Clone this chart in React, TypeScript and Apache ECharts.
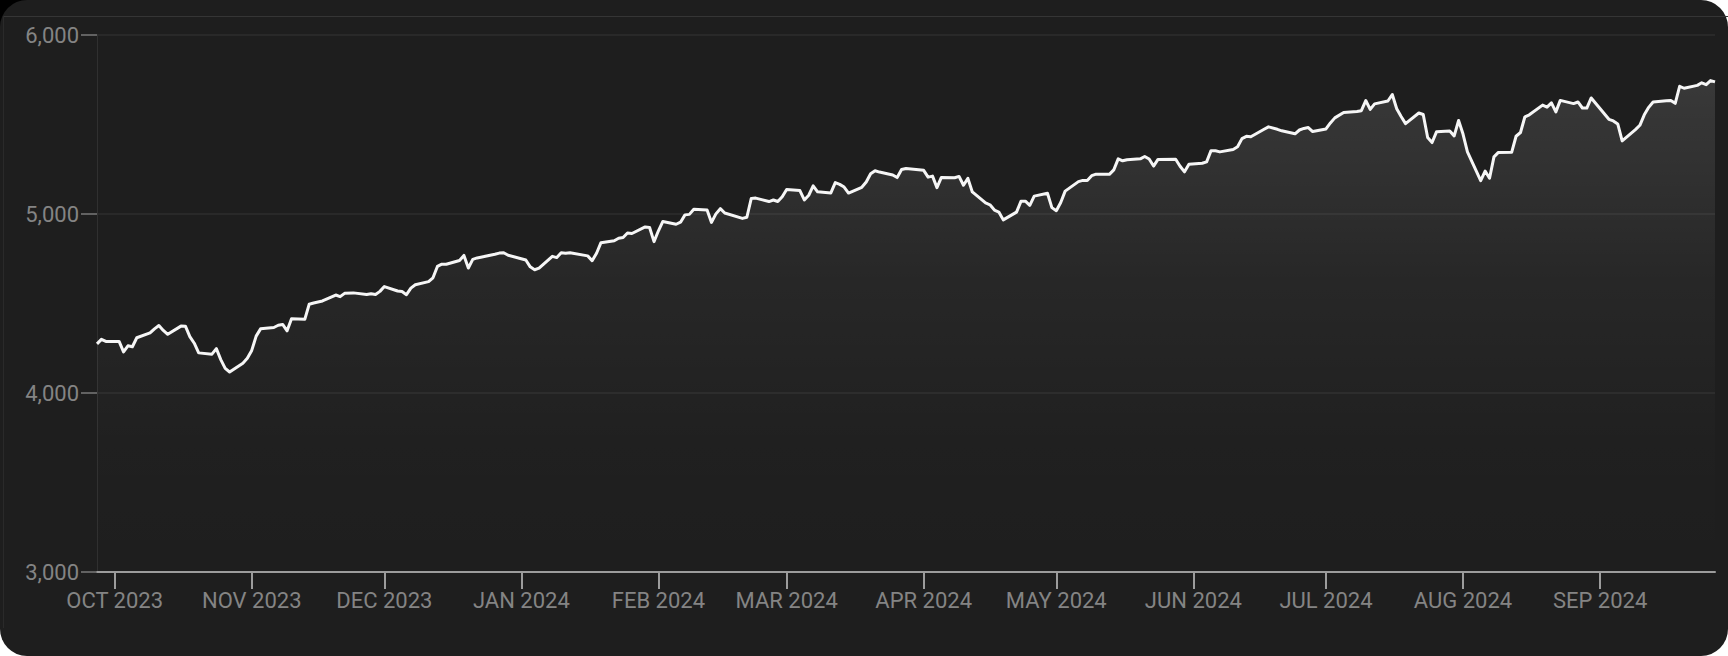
import React, { useEffect, useRef } from "react";
import * as echarts from "echarts";

// Trading dates (YYYY-MM-DD) and index closes
const DATES: string[] = [
  "2023-09-27", "2023-09-28", "2023-09-29",
  "2023-10-02", "2023-10-03", "2023-10-04", "2023-10-05", "2023-10-06", "2023-10-09", "2023-10-10", "2023-10-11", "2023-10-12", "2023-10-13", "2023-10-16", "2023-10-17", "2023-10-18", "2023-10-19", "2023-10-20", "2023-10-23", "2023-10-24", "2023-10-25", "2023-10-26", "2023-10-27", "2023-10-30", "2023-10-31",
  "2023-11-01", "2023-11-02", "2023-11-03", "2023-11-06", "2023-11-07", "2023-11-08", "2023-11-09", "2023-11-10", "2023-11-13", "2023-11-14", "2023-11-15", "2023-11-16", "2023-11-17", "2023-11-20", "2023-11-21", "2023-11-22", "2023-11-24", "2023-11-27", "2023-11-28", "2023-11-29", "2023-11-30",
  "2023-12-01", "2023-12-04", "2023-12-05", "2023-12-06", "2023-12-07", "2023-12-08", "2023-12-11", "2023-12-12", "2023-12-13", "2023-12-14", "2023-12-15", "2023-12-18", "2023-12-19", "2023-12-20", "2023-12-21", "2023-12-22", "2023-12-26", "2023-12-27", "2023-12-28", "2023-12-29",
  "2024-01-02", "2024-01-03", "2024-01-04", "2024-01-05", "2024-01-08", "2024-01-09", "2024-01-10", "2024-01-11", "2024-01-12", "2024-01-16", "2024-01-17", "2024-01-18", "2024-01-19", "2024-01-22", "2024-01-23", "2024-01-24", "2024-01-25", "2024-01-26", "2024-01-29", "2024-01-30", "2024-01-31",
  "2024-02-01", "2024-02-02", "2024-02-05", "2024-02-06", "2024-02-07", "2024-02-08", "2024-02-09", "2024-02-12", "2024-02-13", "2024-02-14", "2024-02-15", "2024-02-16", "2024-02-20", "2024-02-21", "2024-02-22", "2024-02-23", "2024-02-26", "2024-02-27", "2024-02-28", "2024-02-29",
  "2024-03-01", "2024-03-04", "2024-03-05", "2024-03-06", "2024-03-07", "2024-03-08", "2024-03-11", "2024-03-12", "2024-03-13", "2024-03-14", "2024-03-15", "2024-03-18", "2024-03-19", "2024-03-20", "2024-03-21", "2024-03-22", "2024-03-25", "2024-03-26", "2024-03-27", "2024-03-28",
  "2024-04-01", "2024-04-02", "2024-04-03", "2024-04-04", "2024-04-05", "2024-04-08", "2024-04-09", "2024-04-10", "2024-04-11", "2024-04-12", "2024-04-15", "2024-04-16", "2024-04-17", "2024-04-18", "2024-04-19", "2024-04-22", "2024-04-23", "2024-04-24", "2024-04-25", "2024-04-26", "2024-04-29", "2024-04-30",
  "2024-05-01", "2024-05-02", "2024-05-03", "2024-05-06", "2024-05-07", "2024-05-08", "2024-05-09", "2024-05-10", "2024-05-13", "2024-05-14", "2024-05-15", "2024-05-16", "2024-05-17", "2024-05-20", "2024-05-21", "2024-05-22", "2024-05-23", "2024-05-24", "2024-05-28", "2024-05-29", "2024-05-30", "2024-05-31",
  "2024-06-03", "2024-06-04", "2024-06-05", "2024-06-06", "2024-06-07", "2024-06-10", "2024-06-11", "2024-06-12", "2024-06-13", "2024-06-14", "2024-06-17", "2024-06-18", "2024-06-20", "2024-06-21", "2024-06-24", "2024-06-25", "2024-06-26", "2024-06-27", "2024-06-28",
  "2024-07-01", "2024-07-02", "2024-07-03", "2024-07-05", "2024-07-08", "2024-07-09", "2024-07-10", "2024-07-11", "2024-07-12", "2024-07-15", "2024-07-16", "2024-07-17", "2024-07-18", "2024-07-19", "2024-07-22", "2024-07-23", "2024-07-24", "2024-07-25", "2024-07-26", "2024-07-29", "2024-07-30", "2024-07-31",
  "2024-08-01", "2024-08-02", "2024-08-05", "2024-08-06", "2024-08-07", "2024-08-08", "2024-08-09", "2024-08-12", "2024-08-13", "2024-08-14", "2024-08-15", "2024-08-16", "2024-08-19", "2024-08-20", "2024-08-21", "2024-08-22", "2024-08-23", "2024-08-26", "2024-08-27", "2024-08-28", "2024-08-29", "2024-08-30",
  "2024-09-03", "2024-09-04", "2024-09-05", "2024-09-06", "2024-09-09", "2024-09-10", "2024-09-11", "2024-09-12", "2024-09-13", "2024-09-16", "2024-09-17", "2024-09-18", "2024-09-19", "2024-09-20", "2024-09-23", "2024-09-24", "2024-09-25", "2024-09-26", "2024-09-27",
];

const CLOSES: number[] = [
  4274.51, 4299.7, 4288.05,
  4288.39, 4229.45, 4263.75, 4258.19, 4308.5, 4335.66, 4358.24, 4376.95, 4349.61, 4327.78, 4373.63, 4373.2, 4314.6, 4278.0, 4224.16, 4217.04, 4247.68, 4186.77, 4137.23, 4117.37, 4166.82, 4193.8,
  4237.86, 4317.78, 4358.34, 4365.98, 4378.38, 4382.78, 4347.35, 4415.24, 4411.55, 4495.7, 4502.88, 4508.24, 4514.02, 4547.38, 4538.19, 4556.62, 4559.34, 4550.43, 4554.89, 4550.58, 4567.8,
  4594.63, 4569.78, 4567.18, 4549.34, 4585.59, 4604.37, 4622.44, 4643.7, 4707.09, 4719.55, 4719.19, 4740.56, 4768.37, 4698.35, 4746.75, 4754.63, 4774.75, 4781.58, 4783.35, 4769.83,
  4742.83, 4704.81, 4688.68, 4697.24, 4763.54, 4756.5, 4783.45, 4780.24, 4783.83, 4765.98, 4739.21, 4780.94, 4839.81, 4850.43, 4864.6, 4868.55, 4894.16, 4890.97, 4927.93, 4924.97, 4845.65,
  4906.19, 4958.61, 4942.81, 4954.23, 4995.06, 4997.91, 5026.61, 5021.84, 4953.17, 5000.62, 5029.73, 5005.57, 4975.51, 4981.8, 5087.03, 5088.8, 5069.53, 5078.18, 5069.76, 5096.27,
  5137.08, 5130.95, 5078.65, 5104.76, 5157.36, 5123.69, 5117.94, 5175.27, 5165.31, 5150.48, 5117.09, 5149.42, 5178.51, 5224.62, 5241.53, 5234.18, 5218.19, 5203.58, 5248.49, 5254.35,
  5243.77, 5205.81, 5211.49, 5147.21, 5204.34, 5202.39, 5209.91, 5160.64, 5199.06, 5123.41, 5061.82, 5051.41, 5022.21, 5011.12, 4967.23, 5010.6, 5070.55, 5071.63, 5048.42, 5099.96, 5116.17, 5035.69,
  5018.39, 5064.2, 5127.79, 5180.74, 5187.7, 5187.67, 5214.08, 5222.68, 5221.42, 5246.68, 5308.15, 5297.1, 5303.27, 5308.13, 5321.41, 5307.01, 5267.84, 5304.72, 5306.04, 5266.95, 5235.48, 5277.51,
  5283.4, 5291.34, 5354.03, 5352.96, 5346.99, 5360.79, 5375.32, 5421.03, 5433.74, 5431.6, 5473.23, 5487.03, 5473.17, 5464.62, 5447.87, 5469.3, 5477.9, 5482.87, 5460.48,
  5475.09, 5509.01, 5537.02, 5567.19, 5572.85, 5576.98, 5633.91, 5584.54, 5615.35, 5631.22, 5667.2, 5588.27, 5544.59, 5505.0, 5564.41, 5555.74, 5427.13, 5399.22, 5459.1, 5463.54, 5436.44, 5522.3,
  5446.68, 5346.56, 5186.33, 5240.03, 5199.5, 5319.31, 5344.16, 5344.39, 5434.43, 5455.21, 5543.22, 5554.25, 5608.25, 5597.12, 5620.85, 5570.64, 5634.61, 5616.84, 5625.8, 5592.18, 5591.96, 5648.4,
  5528.93, 5520.07, 5503.41, 5408.42, 5471.05, 5495.52, 5554.13, 5595.76, 5626.02, 5633.09, 5634.58, 5618.26, 5713.64, 5702.55, 5718.57, 5732.93, 5722.26, 5745.37, 5738.17,
];

const X_MIN = "2023-09-27";
const X_MAX = "2024-09-27";
const MONTH_TICKS: string[] = [
  "2023-10-01", "2023-11-01", "2023-12-01", "2024-01-01", "2024-02-01", "2024-03-01",
  "2024-04-01", "2024-05-01", "2024-06-01", "2024-07-01", "2024-08-01", "2024-09-01",
];
const MONTH_NAMES: string[] = ["JAN", "FEB", "MAR", "APR", "MAY", "JUN", "JUL", "AUG", "SEP", "OCT", "NOV", "DEC"];
const Y_MIN = 3000;
const Y_MAX = 6000;
const Y_STEP = 1000;

function toLocalTs(s: string): number {
  const [y, m, d] = s.split("-").map(Number);
  return new Date(y, m - 1, d).getTime();
}

export default function App() {
  const ref = useRef<HTMLDivElement>(null);

  useEffect(() => {
    if (!ref.current) return;
    const chart = echarts.init(ref.current, null, { renderer: "svg" });
    const monthTs = MONTH_TICKS.map(toLocalTs);
    const labelColor = "#848484";
    const font = "Roboto, 'Noto Sans', sans-serif";

    chart.setOption({
      animation: false,
      backgroundColor: "transparent",
      grid: { left: 97, right: 13, top: 35, bottom: 84, containLabel: false },
      xAxis: {
        type: "value",
        min: toLocalTs(X_MIN),
        max: toLocalTs(X_MAX),
        axisLine: { show: true, lineStyle: { color: "#9c9c9c", width: 2 } },
        axisTick: {
          show: true,
          length: 17,
          lineStyle: { color: "#9c9c9c", width: 2 },
          customValues: monthTs,
        },
        axisLabel: {
          customValues: monthTs,
          color: labelColor,
          fontSize: 22,
          fontFamily: font,
          margin: 17,
          formatter: (v: number) => {
            const d = new Date(v);
            return MONTH_NAMES[d.getMonth()] + " " + d.getFullYear();
          },
        },
        splitLine: { show: false },
      },
      yAxis: {
        type: "value",
        min: Y_MIN,
        max: Y_MAX,
        interval: Y_STEP,
        axisLine: { show: true, lineStyle: { color: "#303030", width: 1 } },
        axisTick: { show: true, length: 16, lineStyle: { color: "#7a7a7a", width: 1.5 } },
        axisLabel: {
          color: labelColor,
          fontSize: 22,
          fontFamily: font,
          margin: 18,
          formatter: (v: number) => v.toLocaleString("en-US"),
        },
        splitLine: { show: true, lineStyle: { color: "#2e2e2e", width: 1.5 } },
      },
      series: [
        {
          type: "line",
          data: DATES.map((d, i) => [toLocalTs(d), CLOSES[i]]),
          showSymbol: false,
          smooth: false,
          lineStyle: { color: "#f6f6f6", width: 3, join: "round" },
          areaStyle: {
            origin: "start",
            color: new echarts.graphic.LinearGradient(0, 0, 0, 1, [
              { offset: 0, color: "rgba(255,255,255,0.17)" },
              { offset: 0.4, color: "rgba(255,255,255,0.06)" },
              { offset: 0.75, color: "rgba(255,255,255,0.012)" },
              { offset: 1, color: "rgba(255,255,255,0)" },
            ]),
          },
        },
      ],
    });

    return () => chart.dispose();
  }, []);

  return (
    <div
      style={{
        position: "fixed",
        left: 0,
        top: 0,
        width: 1728,
        height: 656,
        background: "#ffffff",
        overflow: "hidden",
      }}
    >
      <div style={{ position: "absolute", left: 0, top: 0, width: 40, height: 40, background: "#000" }} />
      <div
        style={{
          position: "absolute",
          left: 0,
          top: 0,
          width: 1728,
          height: 656,
          background: "#1e1e1e",
          borderRadius: 27,
        }}
      />
      <div style={{ position: "absolute", left: 3, top: 16, width: 1725, height: 1, background: "#353535" }} />
      <div style={{ position: "absolute", left: 3, top: 16, width: 1, height: 612, background: "#2a2a2a" }} />
      <div ref={ref} style={{ position: "absolute", left: 0, top: 0, width: 1728, height: 656 }} />
    </div>
  );
}
